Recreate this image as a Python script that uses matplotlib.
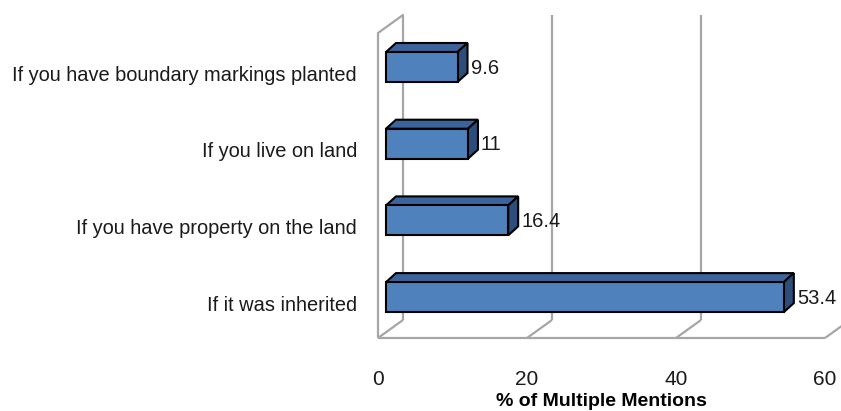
import matplotlib
matplotlib.use('Agg')
import matplotlib.pyplot as plt
from matplotlib.patches import Polygon

categories = ['If you have boundary markings planted',
              'If you live on land',
              'If you have property on the land',
              'If it was inherited']
values = [9.6, 11, 16.4, 53.4]
ticks = [0, 20, 40, 60]
xlabel = '% of Multiple Mentions'

plt.rcParams['font.family'] = ['Liberation Sans', 'DejaVu Sans']

fig = plt.figure(figsize=(8.41, 4.11), dpi=100)
ax = fig.add_axes([0, 0, 1, 1])

# scale: pixels per percent and per category slot
px = 7.45
py = 76.7
ax.set_xlim(-378 / px, (841 - 378) / px)
ax.set_ylim((411 - 67) / py, -67 / py)
ax.axis('off')

# 3d box: depth offset of walls and of the bars
wdx, wdy = 25 / px, -18 / py
floor = (338 - 67) / py
top = (33 - 67) / py
bx0 = 8 / px
bh = 15 / py
bdx, bdy = 10 / px, -9 / py

grid = dict(color='#a6a6a6', lw=1.6, zorder=1, solid_capstyle='butt')

# left wall
ax.plot([0, 0, wdx, wdx], [floor, top, top + wdy, floor + wdy], **grid)
# floor front edge
ax.plot([0, ticks[-1]], [floor, floor], **grid)
for t in ticks:
    ax.plot([t, t + wdx], [floor, floor + wdy], **grid)
    if t > 0:
        ax.plot([t + wdx, t + wdx], [floor + wdy, top + wdy], **grid)

front_c = '#4f81bd'
top_c = '#3c649c'
side_c = '#2d4d7a'

for i, (cat, v) in enumerate(zip(categories, values)):
    y0, y1 = i - bh, i + bh
    x1 = bx0 + v
    ax.add_patch(Polygon([(bx0, y0), (x1, y0), (x1 + bdx, y0 + bdy), (bx0 + bdx, y0 + bdy)],
                         closed=True, fc=top_c, ec='black', lw=1.5, zorder=3))
    ax.add_patch(Polygon([(x1, y0), (x1, y1), (x1 + bdx, y1 + bdy), (x1 + bdx, y0 + bdy)],
                         closed=True, fc=side_c, ec='black', lw=1.5, zorder=3))
    ax.add_patch(Polygon([(bx0, y0), (x1, y0), (x1, y1), (bx0, y1)],
                         closed=True, fc=front_c, ec='black', lw=1.5, zorder=4))
    ax.text(x1 + bdx + 3 / px, i + 1 / py, '%g' % v, ha='left', va='center',
            fontsize=14.5, color='#1a1a1a', zorder=5)
    ax.text(-21 / px, i + 8 / py, cat, ha='right', va='center',
            fontsize=14.4, color='#1a1a1a')

for t in ticks:
    ax.text(t, (379 - 67) / py, str(t), ha='center', va='center',
            fontsize=15, color='#1a1a1a')

ax.text(ticks[-1] / 2, (401 - 67) / py, xlabel, ha='center', va='center',
        fontsize=14, fontweight='bold', color='black')

fig.savefig('out.png', dpi=100)
